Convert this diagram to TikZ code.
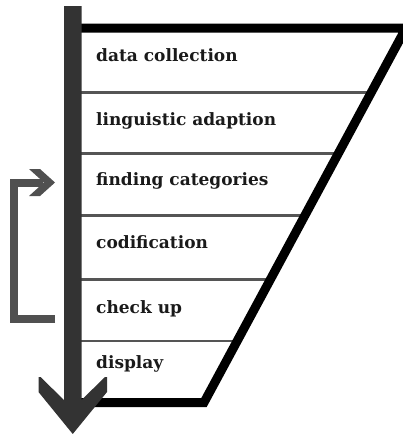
\documentclass[tikz,border=0pt]{standalone}
\usepackage{fontspec}
\setmainfont{DejaVu Serif}
\usetikzlibrary{arrows.meta,calc}
\definecolor{shaftc}{HTML}{333333}
\definecolor{txtc}{HTML}{1A1A1A}
\definecolor{sepc}{HTML}{555555}
\definecolor{fbc}{HTML}{505050}
\begin{document}
\begin{tikzpicture}[x=1pt,y=-1pt,
  lbl/.style={anchor=base west, inner sep=0pt, font=\fontsize{17}{20}\selectfont\bfseries, text=txtc},
  sepline/.style={draw=sepc, line width=3pt},
  frameline/.style={draw=black, line width=9pt, line join=miter, miter limit=10},
  fbline/.style={draw=fbc, line width=8pt, line join=miter},
  fbhead/.style={fill=fbc, draw=none},
  axis/.style={fill=shaftc, draw=none}]
\useasboundingbox (0,0) rectangle (402,434);
% separators
\draw[sepline] (80,92) -- (380,92);
\draw[sepline] (80,153) -- (380,153);
\draw[sepline] (80,215) -- (380,215);
\draw[sepline] (80,279) -- (380,279);
\draw[sepline, line width=2.5pt] (80,341) -- (380,341);
% cover separators outside the frame
\fill[white] (406,32.5) -- (204,398) -- (402,398) -- (402,32.5) -- cycle;
% frame
\draw[frameline] (73,28) -- (406,28) -- (204,402.5) -- (73,402.5);
% labels
\node[lbl] (l1) at (96,61.5) {data collection};
\node[lbl] (l2) at (96,125) {linguistic adaption};
\node[lbl] (l3) at (96,185) {finding categories};
\node[lbl] (l4) at (96,248.3) {codification};
\node[lbl] (l5) at (96,313.3) {check up};
\node[lbl] (l6) at (96,368.3) {display};
% axis arrow
\fill[axis] (64,6) -- (81.5,6) -- (81.5,400) -- (105,377) -- (107,377) -- (107,392)
  -- (72.75,434) -- (38.5,392) -- (38.5,377) -- (40.5,377) -- (64,400) -- cycle;
% feedback arrow (check up -> finding categories)
\coordinate (fbA) at (55,318.5);
\coordinate (fbB) at (55,182.5);
\draw[fbline] (fbA) -- ++(-41,0) |- ($(fbB)+(-12,0)$);
\fill[fbhead] ($(fbB)+(-26,-13.5)$) -- ($(fbB)+(-15,-13.5)$) -- (fbB)
  -- ($(fbB)+(-15,13.5)$) -- ($(fbB)+(-26,13.5)$) -- ($(fbB)+(-11,0)$) -- cycle;
\end{tikzpicture}
\end{document}
